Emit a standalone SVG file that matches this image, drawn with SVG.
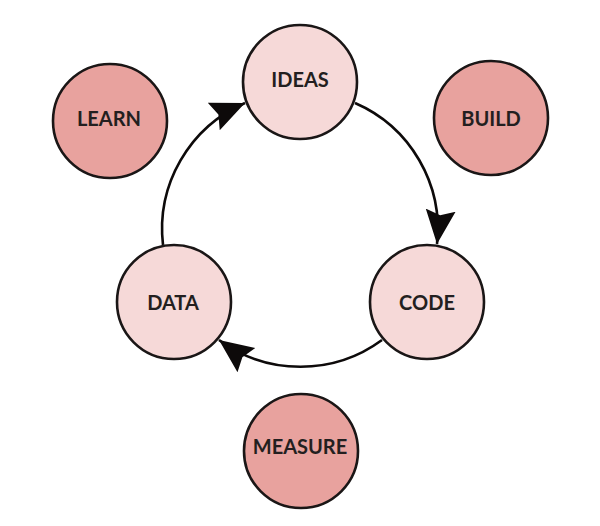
<svg xmlns="http://www.w3.org/2000/svg" width="600" height="526" viewBox="0 0 600 526">
<style>
.node circle{stroke:#1a1616;stroke-width:2.6}
.light circle{fill:#f6d9d8}
.dark circle{fill:#e8a29e}
.node text{font-family:Lato,"Liberation Sans",Arial,sans-serif;font-weight:bold;font-size:20px;fill:#231f20;text-anchor:middle}
.edge{fill:none;stroke:#0d0a0a;stroke-width:2.6;marker-end:url(#arrow)}
</style>
<defs>
<marker id="arrow" markerUnits="userSpaceOnUse" markerWidth="36" markerHeight="32" refX="34" refY="15" orient="auto" viewBox="0 0 36 30">
<path d="M0,0 L34,15 L0,30 L5,15 Z" fill="#0d0a0a"/>
</marker>
</defs>
<rect width="600" height="526" fill="#ffffff"/>
<g id="connectors">
<path id="ideas-code" class="edge" d="M355,103 A137.5,137.5 0 0 1 437,244"/>
<path id="code-data" class="edge" d="M382,340 A137.5,137.5 0 0 1 219,340"/>
<path id="data-ideas" class="edge" d="M163,245 A137.5,137.5 0 0 1 245,103"/>
</g>
<g id="learn" class="node dark"><circle cx="110" cy="121" r="57"/><text x="109" y="126">LEARN</text></g>
<g id="build" class="node dark"><circle cx="491" cy="118" r="57"/><text x="491" y="126">BUILD</text></g>
<g id="ideas" class="node light"><circle cx="300" cy="82" r="57"/><text x="300" y="87">IDEAS</text></g>
<g id="data" class="node light"><circle cx="174" cy="302" r="57"/><text x="173" y="310">DATA</text></g>
<g id="code" class="node light"><circle cx="427" cy="302" r="57"/><text x="427" y="310">CODE</text></g>
<g id="measure" class="node dark"><circle cx="301" cy="451" r="57"/><text x="300" y="454">MEASURE</text></g>
</svg>
